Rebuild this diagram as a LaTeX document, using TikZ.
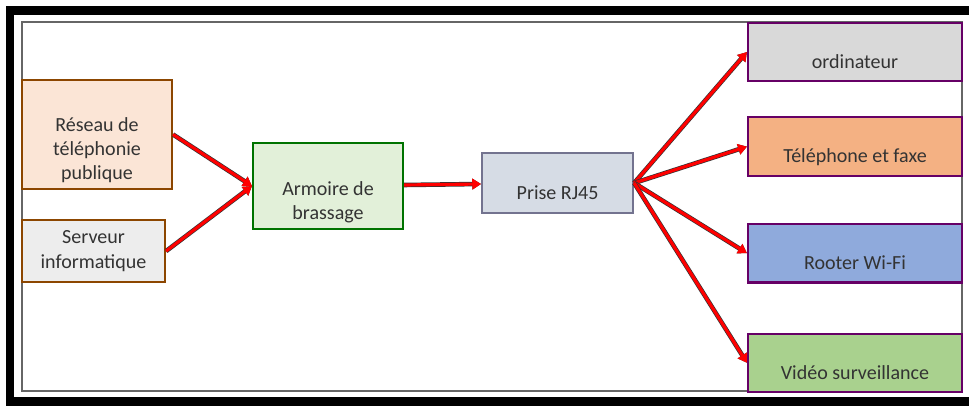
\documentclass[tikz,border=0pt]{standalone}
\usepackage{fontspec}
\setmainfont{Carlito}
\usepackage{tikz}
\usetikzlibrary{arrows.meta,positioning}

\definecolor{peach}{HTML}{FBE5D6}
\definecolor{tan}{HTML}{F4B183}
\definecolor{skyblue}{HTML}{8FAADC}
\definecolor{leaf}{HTML}{A9D18E}
\definecolor{mint}{HTML}{E2F0D9}
\definecolor{steel}{HTML}{D6DCE5}

\newcommand{\padtop}{\rule{0pt}{26pt}}

\begin{document}
\begin{tikzpicture}[
  box/.style={rectangle, draw, line width=1.2pt, font=\fontsize{11.4}{13.7}\selectfont,
              text=black!80, align=center, inner sep=2pt},
  lowtext/.style={text height=21pt, text depth=2.5pt},
  src/.style={box, draw=orange!55!black, minimum width=3cm},
  dev/.style={box, lowtext, draw=violet!80!black, minimum width=4.28cm, minimum height=1.17cm},
  wire/.style={draw=red, line width=1.8pt, preaction={draw=black!80, line width=2.6pt},
               -{Triangle[length=5pt,width=6pt]}},
]

\useasboundingbox (0,0) rectangle (19.38,-8.12);
\draw[line width=0.18cm] (0.2,-0.21) rectangle (20.6,-8.03);
\draw[black!60, line width=0.6pt] (0.44,-0.44) rectangle (19.24,-7.82);

\node[src, fill=peach, minimum height=2.18cm] (reseau) at (1.94,-2.69) {\padtop R\'eseau de\\t\'el\'ephonie\\publique};
\node[src, fill=black!7, minimum width=2.86cm, minimum height=1.24cm,
      below=0.58cm of reseau.south west, anchor=north west] (serveur) {Serveur\\informatique};

\node[box, fill=mint, draw=green!45!black, minimum width=3cm, minimum height=1.72cm] (armoire) at (6.56,-3.72) {\padtop Armoire de\\brassage};
\node[box, lowtext, fill=steel, draw=blue!20!black!55, minimum width=3.02cm, minimum height=1.2cm,
      right=1.54cm of armoire, yshift=0.06cm] (prise) {Prise RJ45};

% appareils
\node[dev, fill=black!15] (ordi) at (17.1,-1.04) {ordinateur};
\node[dev, fill=tan, below=0.68cm of ordi] (tel) {T\'el\'ephone et faxe};
\node[dev, fill=skyblue, below=0.92cm of tel] (wifi) {Rooter Wi-Fi};
\node[dev, fill=leaf, below=0.98cm of wifi] (video) {Vid\'eo surveillance};

\draw[wire] (reseau.east) -- (armoire.west);
\draw[wire] (serveur.east) -- (armoire.west);
\draw[wire] (armoire) -- (prise);

\foreach \d in {ordi,tel,wifi,video}
  \draw[wire] (prise.east) -- (\d.west);

\end{tikzpicture}
\end{document}
